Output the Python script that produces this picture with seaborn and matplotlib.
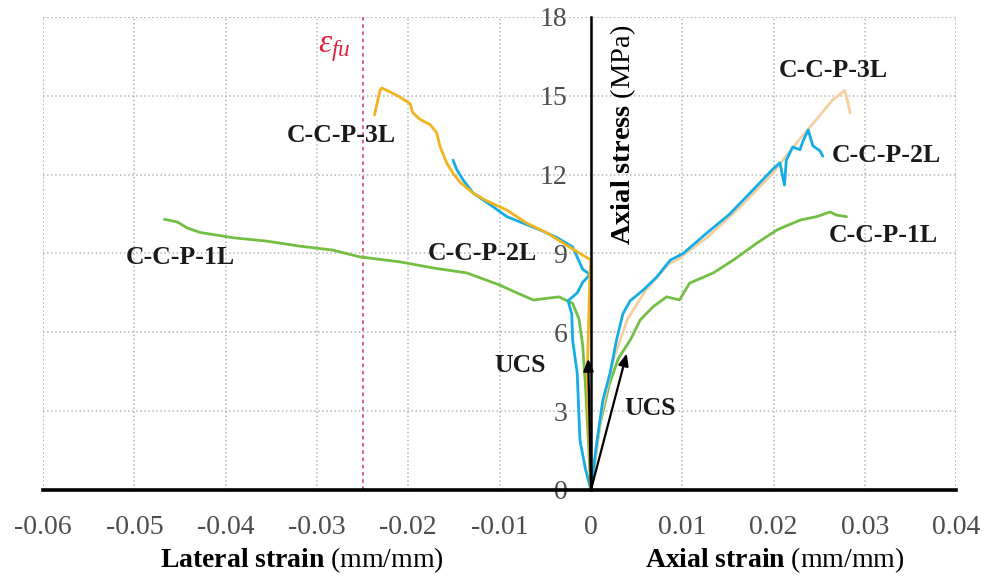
import numpy as np
import pandas as pd
import matplotlib
matplotlib.use("Agg")
import matplotlib.pyplot as plt
import seaborn as sns

# ---------------- data ----------------
# Lateral (left side) curves
lat_1L_x = [0, -0.0003, -0.0006, -0.0009, -0.0013, -0.002, -0.0035, -0.0063, -0.0081, -0.010,
            -0.0136, -0.0173, -0.0209, -0.0253, -0.0283, -0.0319, -0.0355, -0.0392, -0.0428,
            -0.0442, -0.0453, -0.0467]
lat_1L_y = [0, 2.0, 4.0, 5.5, 6.5, 7.1, 7.35, 7.23, 7.5, 7.8,
            8.26, 8.45, 8.68, 8.87, 9.13, 9.28, 9.47, 9.6, 9.8,
            9.97, 10.2, 10.3]

lat_2L_x = [0, -0.0006, -0.0012, -0.0015, -0.002, -0.0021, -0.0025, -0.0015, -0.0009, -0.0001,
            -0.0009, -0.002, -0.0037, -0.0056, -0.0074, -0.0092, -0.011, -0.0129, -0.014,
            -0.0147, -0.0151]
lat_2L_y = [0, 0.8, 1.9, 4.45, 5.7, 6.7, 7.2, 7.5, 7.9, 8.2,
            8.4, 9.25, 9.6, 9.9, 10.15, 10.4, 10.85, 11.3, 11.8,
            12.2, 12.55]

lat_3L_x = [0, -0.0002, -0.0004, -0.0003, -0.0001, 0, -0.0012, -0.0026, -0.0048, -0.007,
            -0.0092, -0.0114, -0.0129, -0.0143, -0.0151, -0.0158, -0.0165, -0.0169, -0.0176,
            -0.0187, -0.0195, -0.0198, -0.0209, -0.022, -0.0229, -0.0231, -0.0237]
lat_3L_y = [0, 2.0, 4.45, 5.7, 8.25, 8.75, 9.0, 9.3, 9.78, 10.15,
            10.65, 11.0, 11.3, 11.7, 12.05, 12.45, 13.05, 13.6, 13.9,
            14.1, 14.35, 14.7, 14.95, 15.15, 15.3, 15.2, 14.27]

# Axial (right side) curves
ax_1L_x = [0, 0.001, 0.002, 0.003, 0.0043, 0.0054, 0.0068, 0.0083, 0.0097, 0.0108, 0.0134,
           0.0156, 0.0182, 0.0204, 0.0229, 0.0247, 0.0262, 0.0269, 0.028]
ax_1L_y = [0, 2.5, 4.0, 5.0, 5.7, 6.47, 6.97, 7.35, 7.23, 7.87, 8.26,
           8.75, 9.4, 9.9, 10.27, 10.4, 10.58, 10.46, 10.4]

ax_2L_x = [0, 0.0006, 0.0013, 0.0021, 0.0028, 0.0035, 0.0043, 0.0057, 0.0072, 0.0087, 0.0101,
           0.0127, 0.0152, 0.0177, 0.0199, 0.0207, 0.0212, 0.0214, 0.0221, 0.0229, 0.0232,
           0.0238, 0.0243, 0.0251, 0.0254]
ax_2L_y = [0, 1.7, 3.4, 4.45, 5.7, 6.7, 7.2, 7.6, 8.1, 8.75, 9.0,
           9.78, 10.5, 11.4, 12.2, 12.45, 11.6, 12.55, 13.05, 12.95, 13.25,
           13.7, 13.1, 12.9, 12.7]

ax_3L_x = [0, 0.0012, 0.0025, 0.004, 0.006, 0.0085, 0.0094, 0.0127, 0.0163, 0.0199,
           0.0225, 0.0247, 0.0265, 0.0278, 0.028, 0.0284]
ax_3L_y = [0, 3.0, 5.0, 6.5, 7.6, 8.6, 8.75, 9.6, 10.75, 12.05,
           13.2, 14.1, 14.85, 15.2, 14.95, 14.35]

x_ticks = [-0.06, -0.05, -0.04, -0.03, -0.02, -0.01, 0, 0.01, 0.02, 0.03, 0.04]
x_tick_labels = ["-0.06", "-0.05", "-0.04", "-0.03", "-0.02", "-0.01", "0", "0.01", "0.02", "0.03", "0.04"]
y_ticks = [0, 3, 6, 9, 12, 15, 18]
y_tick_labels = ["0", "3", "6", "9", "12", "15", "18"]

eps_fu = -0.025
ucs_axial = (0.004, 5.3)
ucs_lateral = (-0.0003, 5.1)

# ---------------- style ----------------
sns.set_theme(style="white")
plt.rcParams["font.family"] = ["Liberation Serif", "DejaVu Serif"]
plt.rcParams["mathtext.fontset"] = "custom"
plt.rcParams["mathtext.rm"] = "Liberation Serif"
plt.rcParams["mathtext.it"] = "Liberation Serif:italic"
plt.rcParams["mathtext.bf"] = "Liberation Serif:bold"

GREEN = "#72bf44"
BLUE = "#14ade6"
GOLD = "#f2b31e"
PEACH = "#f6cf9f"

fig = plt.figure(figsize=(9.85, 5.77), dpi=100)
ax = fig.add_axes([0.0437, 0.1508, 0.927, 0.8198])

curves = [
    (lat_1L_x, lat_1L_y, GREEN),
    (lat_2L_x, lat_2L_y, BLUE),
    (lat_3L_x, lat_3L_y, GOLD),
    (ax_1L_x, ax_1L_y, GREEN),
    (ax_3L_x, ax_3L_y, PEACH),
    (ax_2L_x, ax_2L_y, BLUE),
]
for xs, ys, c in curves:
    df = pd.DataFrame({"x": xs, "y": ys})
    sns.lineplot(data=df, x="x", y="y", sort=False, estimator=None, color=c,
                 linewidth=2.0, ax=ax)

ax.set_xlim(-0.06, 0.04)
ax.set_ylim(0, 18)
ax.set_xticks(x_ticks)
ax.set_xticklabels(x_tick_labels)
ax.set_yticks(y_ticks)
ax.set_yticklabels(y_tick_labels)
ax.set_xlabel("")
ax.set_ylabel("")
ax.tick_params(axis="both", length=0, labelsize=20, colors="#4d4d4d")
ax.tick_params(axis="x", pad=18)
ax.tick_params(axis="y", pad=17)

ax.grid(True, linestyle=":", color="#b5b5b5", linewidth=1.1)
ax.set_axisbelow(True)

for s in ["top", "right"]:
    ax.spines[s].set_visible(False)
ax.spines["left"].set_position(("data", 0))
ax.spines["left"].set_color("black")
ax.spines["left"].set_linewidth(1.8)
ax.spines["left"].set_zorder(5)
ax.spines["bottom"].set_color("black")
ax.spines["bottom"].set_linewidth(2.6)
ax.spines["bottom"].set_zorder(5)
# frame grid lines at limits
ax.axhline(18, color="#b5b5b5", linestyle=":", linewidth=1.1, zorder=0)
ax.axvline(0.04, color="#b5b5b5", linestyle=":", linewidth=1.1, zorder=0)
ax.axvline(-0.06, color="#b5b5b5", linestyle=":", linewidth=1.1, zorder=0)

# epsilon_fu line
ax.axvline(eps_fu, color="#e4506c", linestyle=(0, (2, 2)), linewidth=1.3, zorder=1)
ax.text(-0.0281, 16.8, r"$\varepsilon_{fu}$", color="#e0203a", fontsize=24,
        ha="center", va="center")

# curve labels
lab_kw = dict(fontsize=18.5, fontweight="bold", color="#1a1a1a", ha="center", va="center")
ax.text(-0.0273, 13.5, "C-C-P-3L", **lab_kw)
ax.text(-0.045, 8.86, "C-C-P-1L", **lab_kw)
ax.text(-0.0119, 9.0, "C-C-P-2L", **lab_kw)
ax.text(0.0265, 15.97, "C-C-P-3L", **lab_kw)
ax.text(0.0324, 12.74, "C-C-P-2L", **lab_kw)
ax.text(0.032, 9.7, "C-C-P-1L", **lab_kw)
ax.text(-0.0077, 4.75, "UCS", **lab_kw)
ax.text(0.0065, 3.1, "UCS", **lab_kw)

# UCS arrows
arrow_kw = dict(arrowstyle="-|>,head_length=0.6,head_width=0.25", color="black", lw=1.6)
ax.annotate("", xy=ucs_axial, xytext=(0, 0), arrowprops=arrow_kw, zorder=6)
ax.annotate("", xy=ucs_lateral, xytext=(0, 0), arrowprops=arrow_kw, zorder=6)

# axis labels
ax.annotate(r"$\mathbf{Lateral\ strain}\ \mathrm{(mm/mm)}$", xy=(-0.0317, -0.148),
            xycoords=("data", "axes fraction"), ha="center", va="center", fontsize=20,
            color="black", annotation_clip=False)
ax.annotate(r"$\mathbf{Axial\ strain}\ \mathrm{(mm/mm)}$", xy=(0.0201, -0.148),
            xycoords=("data", "axes fraction"), ha="center", va="center", fontsize=20,
            color="black", annotation_clip=False)
ax.text(0.0035, 13.5, r"$\mathbf{Axial\ stress}\ \mathrm{(MPa)}$", rotation=90,
        ha="center", va="center", fontsize=20.5, color="black")

fig.savefig("out.png", dpi=100)
